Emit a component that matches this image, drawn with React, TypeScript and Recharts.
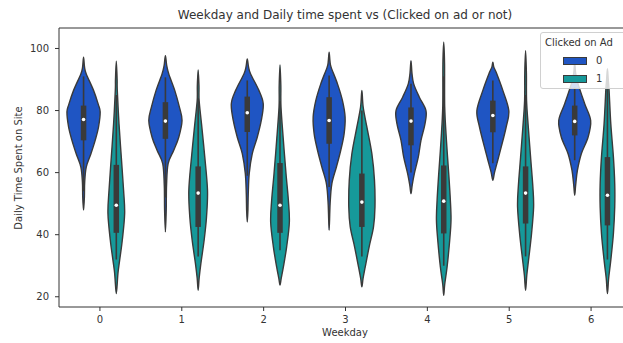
import React from "react"
import { ComposedChart, Scatter, XAxis, YAxis, ReferenceLine } from "recharts"

const weekdays = [0, 1, 2, 3, 4, 5, 6]
const yTicks = [20, 40, 60, 80, 100]
const hueLabels = ["0", "1"]
const HUE_COLORS = ["#1f55c3", "#16999a"]
const EDGE = "#3a3a3a"
const FONT = "'DejaVu Sans', sans-serif"

// violin outline per weekday: [time on site, half width in weekday units], top to bottom
const notClickedShape: number[][][] = [
  [[97.2, 0], [94, 0.012], [91.8, 0.033], [86.5, 0.122], [82, 0.18], [79.5, 0.203], [74.7, 0.183], [70.4, 0.142], [66, 0.089], [61.8, 0.033], [57, 0.014], [52, 0.01], [47.9, 0]],
  [[97.7, 0], [94.5, 0.016], [91.8, 0.041], [86.5, 0.114], [81.1, 0.171], [76.8, 0.203], [71.4, 0.163], [67.2, 0.102], [62.9, 0.033], [56, 0.014], [48, 0.01], [40.9, 0]],
  [[96.6, 0], [94, 0.016], [91.8, 0.041], [86.5, 0.142], [82.2, 0.195], [76.8, 0.171], [71.4, 0.122], [66.1, 0.061], [59.7, 0.024], [53.2, 0.012], [48, 0.008], [44.1, 0]],
  [[98.8, 0], [96, 0.01], [94, 0.024], [88.6, 0.102], [83.2, 0.163], [77.9, 0.195], [72.5, 0.183], [67.2, 0.142], [61.8, 0.089], [56.4, 0.033], [50, 0.012], [41.4, 0]],
  [[96.1, 0], [92, 0.012], [88.6, 0.033], [84.3, 0.102], [80, 0.183], [75.7, 0.171], [70.4, 0.122], [65, 0.089], [59.7, 0.041], [56, 0.015], [53.2, 0]],
  [[95.6, 0], [94, 0.012], [91.8, 0.049], [86.5, 0.122], [80, 0.195], [74.7, 0.163], [68.2, 0.102], [62.9, 0.049], [60, 0.02], [57.5, 0]],
  [[95.6, 0], [92, 0.012], [88.6, 0.041], [82.2, 0.122], [76.8, 0.195], [71.4, 0.163], [66.1, 0.081], [60.7, 0.033], [56, 0.012], [52.7, 0]],
]

const clickedShape: number[][][] = [
  [[95.9, 0], [90, 0.01], [86.5, 0.012], [75.7, 0.033], [65, 0.061], [54.3, 0.089], [46.8, 0.102], [38.2, 0.073], [31.8, 0.041], [27.5, 0.02], [21, 0]],
  [[93.1, 0], [88, 0.01], [83.2, 0.012], [75.7, 0.041], [65, 0.081], [54.3, 0.114], [45.7, 0.102], [38.2, 0.073], [30.7, 0.033], [26, 0.012], [22.1, 0]],
  [[94.7, 0], [88, 0.01], [81.1, 0.012], [70.4, 0.041], [59.7, 0.073], [51.1, 0.102], [44, 0.114], [36.1, 0.081], [29.6, 0.041], [26, 0.015], [23.8, 0]],
  [[86.5, 0], [81.1, 0.016], [74.7, 0.061], [66.1, 0.122], [57.5, 0.154], [48.9, 0.16], [42.5, 0.142], [36.1, 0.089], [29.6, 0.041], [26, 0.015], [23.2, 0]],
  [[102, 0], [95, 0.01], [81.1, 0.012], [70.4, 0.033], [59.7, 0.061], [51.1, 0.081], [44.7, 0.089], [38.2, 0.073], [29.6, 0.041], [24, 0.012], [20.5, 0]],
  [[99.3, 0], [92, 0.01], [83.2, 0.012], [74.7, 0.033], [65, 0.061], [55.4, 0.089], [48.9, 0.098], [40.4, 0.073], [32.9, 0.041], [27, 0.015], [22.1, 0]],
  [[93.5, 0], [90, 0.01], [86.5, 0.02], [75.7, 0.041], [65, 0.073], [56.4, 0.089], [48.9, 0.089], [40.4, 0.073], [31.8, 0.041], [26, 0.015], [21, 0]],
]

// inner box: [whisker low, q1, median, q3, whisker high]
const notClickedBox = [
  [54, 70.4, 77.1, 81.6, 91],
  [52, 70.9, 76.6, 82.7, 90.7],
  [59, 73.1, 79.3, 84.5, 89.7],
  [55.4, 69.3, 76.8, 84.3, 91.3],
  [60, 68.8, 76.6, 81, 88.6],
  [63, 73, 78.4, 83.2, 89.7],
  [64, 72, 76.5, 81.6, 87.5],
]

const clickedBox = [
  [32, 40.6, 49.5, 62.5, 85],
  [33, 42.5, 53.4, 62, 84],
  [35, 40.6, 49.5, 63.1, 83],
  [33, 42.5, 50.5, 59.7, 80],
  [30, 40.4, 50.8, 62.3, 91],
  [33, 43.6, 53.4, 62, 85],
  [32, 43, 52.7, 65, 90],
]

const Y_MIN = 16.7
const Y_MAX = 106.6

const groups = [
  { shapes: notClickedShape, boxes: notClickedBox, offset: -0.2, color: HUE_COLORS[0] },
  { shapes: clickedShape, boxes: clickedBox, offset: 0.2, color: HUE_COLORS[1] },
]

const outline = (shape: number[][], center: number) => {
  const right = shape.map(([v, w]) => ({ x: center + w, y: v }))
  const left = shape
    .slice(1, -1)
    .map(([v, w]) => ({ x: center - w, y: v }))
    .reverse()
  return [...right, ...left]
}

// catmull-rom through the scaled outline points
const smoothClosed = (pts: { x: number; y: number }[]) => {
  const n = pts.length
  if (!n) return ""
  let d = `M${pts[0].x},${pts[0].y}`
  for (let i = 0; i < n; i++) {
    const p0 = pts[(i - 1 + n) % n]
    const p1 = pts[i]
    const p2 = pts[(i + 1) % n]
    const p3 = pts[(i + 2) % n]
    const c1x = p1.x + (p2.x - p0.x) / 6
    const c1y = p1.y + (p2.y - p0.y) / 6
    const c2x = p2.x - (p3.x - p1.x) / 6
    const c2y = p2.y - (p3.y - p1.y) / 6
    d += ` C${c1x},${c1y} ${c2x},${c2y} ${p2.x},${p2.y}`
  }
  return d + "Z"
}

const violinLine = (fill: string) => (props: any) => (
  <path d={smoothClosed(props.points || [])} fill={fill} stroke={EDGE} strokeWidth={1.4} />
)

const straightLine = (width: number) => (props: any) => {
  const p = props.points || []
  if (p.length < 2) return <g />
  return <path d={`M${p[0].x},${p[0].y}L${p[1].x},${p[1].y}`} stroke={EDGE} strokeWidth={width} fill="none" />
}

const noDot = () => <g />
const medianDot = (props: any) => <circle cx={props.cx} cy={props.cy} r={1.8} fill="#ffffff" />

export default function App() {
  const series: React.ReactNode[] = []
  weekdays.forEach((day, i) => {
    groups.forEach((g, h) => {
      const c = day + g.offset
      const [wLo, q1, med, q3, wHi] = g.boxes[i]
      series.push(
        <Scatter key={`v-${i}-${h}`} data={outline(g.shapes[i], c)} line={violinLine(g.color)} shape={noDot} isAnimationActive={false} legendType="none" />,
        <Scatter key={`w-${i}-${h}`} data={[{ x: c, y: wLo }, { x: c, y: wHi }]} line={straightLine(1.6)} shape={noDot} isAnimationActive={false} legendType="none" />,
        <Scatter key={`b-${i}-${h}`} data={[{ x: c, y: q1 }, { x: c, y: q3 }]} line={straightLine(5.5)} shape={noDot} isAnimationActive={false} legendType="none" />,
        <Scatter key={`m-${i}-${h}`} data={[{ x: c, y: med }]} shape={medianDot} isAnimationActive={false} legendType="none" />
      )
    })
  })

  const tickStyle = { fill: "#333", fontSize: 10, fontFamily: FONT }

  return (
    <div style={{ position: "absolute", left: 0, top: 0, width: 623, height: 343, overflow: "hidden", background: "#fff" }}>
      <ComposedChart width={680} height={343} margin={{ top: 28, right: 48, bottom: 0, left: 0 }}>
        <XAxis
          type="number"
          dataKey="x"
          domain={[-0.5, 6.5]}
          allowDataOverflow
          ticks={weekdays}
          height={36}
          tick={tickStyle}
          tickSize={4}
          tickMargin={5}
          stroke="#333"
        />
        <YAxis
          type="number"
          dataKey="y"
          domain={[Y_MIN, Y_MAX]}
          allowDataOverflow
          ticks={yTicks}
          width={59}
          tick={tickStyle}
          tickSize={4}
          tickMargin={6}
          stroke="#333"
        />
        <ReferenceLine y={Y_MAX} stroke="#333" strokeWidth={1} />
        <ReferenceLine x={6.5} stroke="#333" strokeWidth={1} />
        {series}
      </ComposedChart>

      <div style={{ position: "absolute", left: 0, width: 690, top: 8, textAlign: "center", fontFamily: FONT, fontSize: 12, color: "#333", whiteSpace: "nowrap" }}>
        Weekday and Daily time spent vs (Clicked on ad or not)
      </div>
      <div style={{ position: "absolute", left: 0, width: 690, top: 327, textAlign: "center", fontFamily: FONT, fontSize: 10, color: "#333" }}>
        Weekday
      </div>
      <div
        style={{
          position: "absolute",
          left: 18,
          top: 168,
          transform: "translate(-50%, -50%) rotate(-90deg)",
          fontFamily: FONT,
          fontSize: 10,
          color: "#333",
          whiteSpace: "nowrap",
        }}
      >
        Daily Time Spent on Site
      </div>

      <div
        style={{
          position: "absolute",
          left: 540,
          top: 32,
          width: 100,
          height: 55,
          border: "1px solid #d0d0d0",
          borderRadius: 3,
          background: "rgba(255,255,255,0.8)",
          fontFamily: FONT,
          fontSize: 10,
          color: "#333",
        }}
      >
        <div style={{ position: "absolute", left: 4, top: 4, whiteSpace: "nowrap" }}>Clicked on Ad</div>
        {hueLabels.map((label, h) => (
          <div key={label} style={{ position: "absolute", left: 22, top: 22 + h * 18, display: "flex", alignItems: "center" }}>
            <div style={{ width: 22, height: 6, background: HUE_COLORS[h], border: `1px solid ${EDGE}` }} />
            <span style={{ marginLeft: 9 }}>{label}</span>
          </div>
        ))}
      </div>
    </div>
  )
}
